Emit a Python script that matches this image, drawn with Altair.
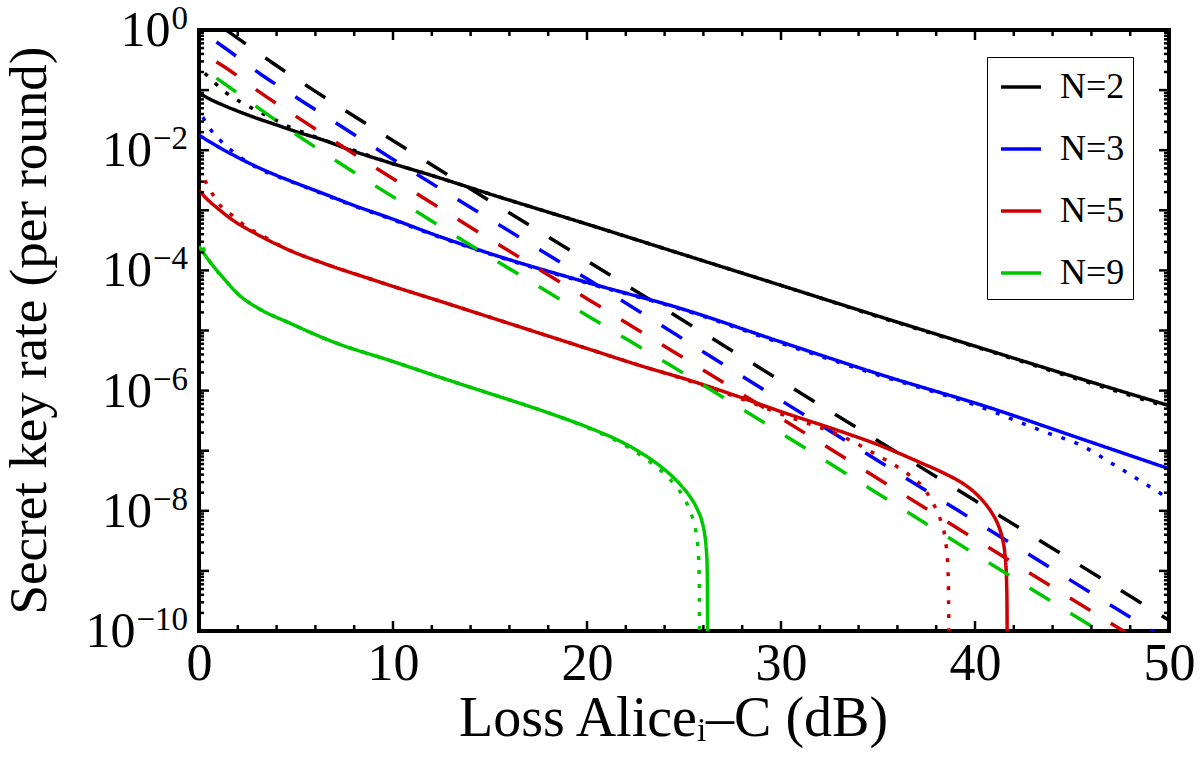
import altair as alt
import pandas as pd

FONT = "Liberation Serif"

# ---------------- data (log10 of secret key rate) ----------------
n2_solid_x = [0, 0.5, 1.24, 2, 3, 4, 5, 6.4, 8, 9.85, 12, 15, 20, 25, 30.5, 35, 40, 45, 50]
n2_solid_l = [-1.05, -1.14, -1.25, -1.35, -1.47, -1.58, -1.69, -1.83, -2.02, -2.21, -2.42, -2.73,
              -3.23, -3.74, -4.30, -4.76, -5.26, -5.76, -6.25]
n2_dot_x = [0.3, 0.65, 1.34, 2.1, 2.97, 3.9, 4.7, 5.6, 6.6, 8.4, 9.85, 12, 15, 20, 25, 30.5, 35, 40, 45, 50]
n2_dot_l = [-0.72, -0.83, -1.03, -1.19, -1.34, -1.49, -1.62, -1.73, -1.85, -2.05, -2.21, -2.42, -2.73,
            -3.23, -3.74, -4.30, -4.77, -5.27, -5.78, -6.28]
n2_dash_x = [1.4, 2.1, 3.8, 5.9, 9.85, 20, 28.9, 40, 50]
n2_dash_l = [0.0, -0.16, -0.55, -1.0, -1.81, -3.84, -5.62, -7.83, -9.82]

n3_solid_x = [0, 0.5, 1.24, 2, 2.94, 4, 4.7, 6.4, 8, 9.85, 12, 15, 20, 25, 29.9, 35, 41.1, 45, 50]
n3_solid_l = [-1.75, -1.85, -1.99, -2.12, -2.27, -2.42, -2.51, -2.72, -2.92, -3.13, -3.39, -3.72,
              -4.2, -4.65, -5.18, -5.72, -6.32, -6.75, -7.3]
n3_dot_x = [0.2, 0.47, 1.08, 1.86, 2.6, 3.5, 4.4, 6.4, 8, 9.85, 12, 15, 20, 25, 29.9, 35, 40, 43.7,
            45.4, 47.1, 50]
n3_dot_l = [-1.45, -1.6, -1.83, -2.05, -2.22, -2.37, -2.48, -2.73, -2.93, -3.14, -3.4, -3.73, -4.21,
            -4.66, -5.2, -5.74, -6.24, -6.7, -6.9, -7.22, -7.8]
n3_dash_x = [0.9, 1.34, 3.2, 5.3, 9.85, 20, 28, 40, 50]
n3_dash_l = [-0.2, -0.3, -0.74, -1.18, -2.12, -4.14, -5.76, -8.17, -10.17]

n5_solid_x = [0, 0.5, 0.9, 1.77, 2.94, 4.7, 6.4, 9, 9.85, 12.5, 15, 20.2, 22.7, 25.3, 27.9, 30, 33,
              35, 37.2, 38.5, 39.4, 40.0, 40.5, 40.9, 41.15, 41.32, 41.44, 41.53, 41.59, 41.63,
              41.65, 41.66]
n5_solid_l = [-2.67, -2.84, -2.95, -3.17, -3.39, -3.67, -3.88, -4.16, -4.25, -4.52, -4.78, -5.32,
              -5.58, -5.83, -6.11, -6.35, -6.67, -6.9, -7.2, -7.39, -7.55, -7.7, -7.87, -8.05,
              -8.2, -8.35, -8.5, -8.68, -8.9, -9.2, -9.6, -10.5]
n5_dot_x = [0.3, 0.47, 1.0, 1.7, 2.47, 3.3, 4.7, 6.4, 9, 9.85, 12.5, 15, 20.2, 22.7, 25.3, 27.9,
            30, 33.4, 35.1, 36, 36.8, 37.3, 37.8, 38.1, 38.32, 38.46, 38.55, 38.61, 38.64, 38.66]
n5_dot_l = [-2.5, -2.6, -2.88, -3.08, -3.28, -3.43, -3.67, -3.88, -4.16, -4.25, -4.52, -4.78, -5.32,
            -5.58, -5.84, -6.13, -6.39, -6.8, -7.1, -7.27, -7.45, -7.6, -7.85, -8.05, -8.25,
            -8.45, -8.7, -9.0, -9.5, -10.5]
n5_dash_x = [0.9, 1.34, 3.2, 5.3, 11.5, 20, 26.3, 40, 50]
n5_dash_l = [-0.53, -0.62, -1.05, -1.5, -2.78, -4.47, -5.72, -8.47, -10.47]

n9_solid_x = [0, 0.57, 1.24, 2.1, 3, 4.7, 7, 9.85, 12.9, 15, 18.1, 20.2, 21.5, 22.6, 23.5, 24.2,
              24.8, 25.3, 25.68, 25.92, 26.06, 26.14, 26.19, 26.21, 26.22]
n9_solid_l = [-3.6, -3.86, -4.12, -4.42, -4.62, -4.88, -5.2, -5.5, -5.83, -6.05, -6.38, -6.63,
              -6.81, -7.0, -7.19, -7.37, -7.56, -7.76, -7.97, -8.17, -8.38, -8.6, -8.9, -9.4,
              -10.5]
n9_dot_x = [0.2, 0.57, 1.24, 2.1, 3, 4.7, 7, 9.85, 12.9, 15, 18.1, 20.2, 21.5, 22.6, 23.5, 24.2,
            24.75, 25.15, 25.42, 25.6, 25.7, 25.76, 25.79, 25.8]
n9_dot_l = [-3.62, -3.86, -4.12, -4.42, -4.62, -4.88, -5.2, -5.5, -5.83, -6.05, -6.38, -6.64,
            -6.83, -7.04, -7.25, -7.45, -7.66, -7.88, -8.1, -8.32, -8.55, -8.85, -9.3, -10.5]
n9_dash_x = [0.9, 1.34, 3.2, 5.3, 11.5, 20, 24.3, 40, 50]
n9_dash_l = [-0.8, -0.9, -1.33, -1.8, -3.08, -4.75, -5.58, -8.72, -10.72]

series_names = ["N=2", "N=3", "N=5", "N=9"]
series_colors = ["#000000", "#0000ff", "#cc0000", "#00c800"]
styles = ["solid", "dotted", "dashed"]

x_tick_values = [0, 10, 20, 30, 40, 50]
y_tick_values = [1, 1e-2, 1e-4, 1e-6, 1e-8, 1e-10]
y_tick_base = ["10", "10", "10", "10", "10", "10"]
y_tick_exp = ["0", "−2", "−4", "−6", "−8", "−10"]

x_title = "Loss Aliceᵢ–C (dB)"
y_title = "Secret key rate (per round)"

# ---------------- build long table ----------------
table = {
    ("N=2", "solid"): (n2_solid_x, n2_solid_l),
    ("N=2", "dotted"): (n2_dot_x, n2_dot_l),
    ("N=2", "dashed"): (n2_dash_x, n2_dash_l),
    ("N=3", "solid"): (n3_solid_x, n3_solid_l),
    ("N=3", "dotted"): (n3_dot_x, n3_dot_l),
    ("N=3", "dashed"): (n3_dash_x, n3_dash_l),
    ("N=5", "solid"): (n5_solid_x, n5_solid_l),
    ("N=5", "dotted"): (n5_dot_x, n5_dot_l),
    ("N=5", "dashed"): (n5_dash_x, n5_dash_l),
    ("N=9", "solid"): (n9_solid_x, n9_solid_l),
    ("N=9", "dotted"): (n9_dot_x, n9_dot_l),
    ("N=9", "dashed"): (n9_dash_x, n9_dash_l),
}
rows = []
for (name, style), (xs, ls) in table.items():
    for i, (xv, lv) in enumerate(zip(xs, ls)):
        rows.append({"N": name, "style": style, "sid": f"{name}-{style}", "i": i,
                     "x": xv, "y": 10 ** lv})
df = pd.DataFrame(rows)

W, H = 970, 601
xscale = alt.Scale(domain=[0, 50], nice=False, zero=False)
yscale = alt.Scale(type="log", domain=[1e-10, 1], nice=False)

BASE_FS, EXP_FS = 50, 33
LABEL_RIGHT = -11  # px from the frame


def exp_width(s):
    # Times-metric advance widths: digits 0.5 em, minus sign 0.564 em
    return sum(0.564 if c == "−" else 0.5 for c in s) * EXP_FS


ylab = pd.DataFrame({
    "v": y_tick_values,
    "base": y_tick_base,
    "exp": y_tick_exp,
    "bx": [LABEL_RIGHT - exp_width(e) - 1 for e in y_tick_exp],
})

x_axis = alt.Axis(values=x_tick_values, title=x_title, labelFont=FONT, labelFontSize=52,
                  labelColor="black", labelPadding=7, labelFlush=False, ticks=False,
                  domain=False, grid=False, titleFont=FONT, titleFontSize=56,
                  titleFontWeight="normal", titleColor="black", titleX=474, titleY=104,
                  titleAlign="center", titleBaseline="alphabetic")
y_axis = alt.Axis(values=y_tick_values, labels=False, title=y_title,
                  ticks=False, domain=False, grid=False, titleFont=FONT, titleFontSize=53,
                  titleFontWeight="normal", titleColor="black", titleAngle=270,
                  titleX=-154, titleY=300, titleAlign="center",
                  titleBaseline="alphabetic")

color = alt.Color("N:N", scale=alt.Scale(domain=series_names, range=series_colors),
                  legend=alt.Legend(orient="none", legendX=788, legendY=27, title=None,
                                    symbolType="stroke", symbolSize=1600, symbolStrokeWidth=3.5,
                                    symbolOffset=4,
                                    labelFont=FONT, labelFontSize=36, labelColor="black",
                                    strokeColor="black", fillColor="white", padding=8,
                                    rowPadding=22, labelOffset=17, symbolOpacity=1))

lines = alt.Chart(df).mark_line(clip=True, strokeWidth=3.5, interpolate="monotone",
                                strokeCap="butt").encode(
    x=alt.X("x:Q", scale=xscale, axis=x_axis),
    y=alt.Y("y:Q", scale=yscale, axis=y_axis),
    color=color,
    strokeDash=alt.StrokeDash("style:N", scale=alt.Scale(domain=styles,
                                                         range=[[1, 0], [4, 10], [24, 24]]),
                              legend=None),
    detail="sid:N",
    order="i:Q",
)

# y tick labels: "10" with a raised exponent
base_text = alt.Chart(ylab).mark_text(align="right", baseline="alphabetic", font=FONT,
                                      fontSize=BASE_FS, dy=16, color="black").encode(
    y=alt.Y("v:Q", scale=yscale, axis=y_axis),
    x=alt.X("bx:Q", scale=None),
    text="base:N",
)
exp_text = alt.Chart(ylab).mark_text(align="right", baseline="alphabetic", font=FONT,
                                     fontSize=EXP_FS, dy=-1, color="black").encode(
    y=alt.Y("v:Q", scale=yscale, axis=y_axis),
    x=alt.value(LABEL_RIGHT),
    text="exp:N",
)

# inward frame ticks
x_major = list(range(0, 51, 10))
x_minor = [v for v in range(0, 51, 2) if v % 10 != 0]
y_major = [10.0 ** e for e in range(-10, 1)]
y_minor = [k * 10.0 ** e for e in range(-10, 0) for k in range(2, 10)]

xtM = pd.DataFrame({"x": x_major})
xtm = pd.DataFrame({"x": x_minor})
ytM = pd.DataFrame({"y": y_major})
ytm = pd.DataFrame({"y": y_minor})


def xticks(d, y0, y1):
    return alt.Chart(d).mark_rule(color="black", strokeWidth=2.5).encode(
        x=alt.X("x:Q", scale=xscale, axis=x_axis), y=alt.value(y0), y2=alt.value(y1))


def yticks(d, x0, x1):
    return alt.Chart(d).mark_rule(color="black", strokeWidth=2.5).encode(
        y=alt.Y("y:Q", scale=yscale, axis=y_axis), x=alt.value(x0), x2=alt.value(x1))


ticks = [
    xticks(xtM, H, H - 10), xticks(xtm, H, H - 6),
    xticks(xtM, 0, 10), xticks(xtm, 0, 6),
    yticks(ytM, 0, 10), yticks(ytm, 0, 5),
    yticks(ytM, W, W - 10), yticks(ytm, W, W - 5),
]

chart = alt.layer(lines, *ticks, base_text, exp_text).properties(
    width=W, height=H,
    background="white",
    autosize=alt.AutoSizeParams(type="none"),
    padding={"left": 199, "top": 30, "right": 31, "bottom": 142},
).configure_view(stroke="black", strokeWidth=4)

chart.save("out.html", embed_options={"renderer": "svg", "actions": False})
